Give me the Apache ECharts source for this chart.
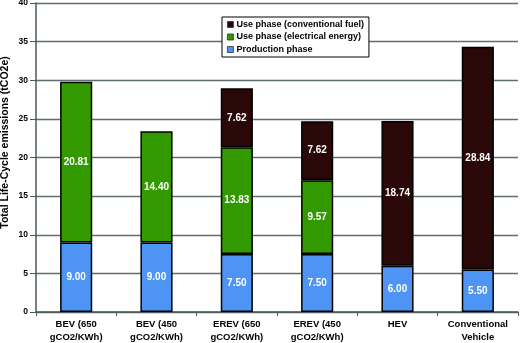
<!DOCTYPE html>
<html><head><meta charset="utf-8">
<script src="https://cdn.jsdelivr.net/npm/echarts@6/dist/echarts.min.js"></script>
<style>html,body{margin:0;padding:0;background:#fff}#c{width:520px;height:343px}</style>
</head><body><div id="c"></div>
<script>
const categories = ['BEV (650\ngCO2/KWh)', 'BEV (450\ngCO2/KWh)', 'EREV (650\ngCO2/KWh)', 'EREV (450\ngCO2/KWh)', 'HEV', 'Conventional\nVehicle'];
const production = [9.00, 9.00, 7.50, 7.50, 6.00, 5.50];
const electrical = [20.81, 14.40, 13.83, 9.57, null, null];
const conventional = [null, null, 7.62, 7.62, 18.74, 28.84];
const seriesNames = ['Production phase', 'Use phase (electrical energy)', 'Use phase (conventional fuel)'];
const FONT = 'Liberation Sans';
const chart = echarts.init(document.getElementById('c'));
function mk(name, data, color) {
  return {
    name, type: 'bar', stack: 'total', data, barWidth: '40%',
    itemStyle: { color, borderColor: '#000', borderWidth: 1.5 },
    label: {
      show: true, position: 'inside', color: '#fff', fontWeight: 'bold', fontSize: 10, fontFamily: FONT,
      formatter: p => p.value > 0 ? p.value.toFixed(2) : ''
    }
  };
}
chart.setOption({
  animation: false,
  textStyle: { fontFamily: FONT },
  grid: { left: 36, right: 2, top: 3, bottom: 31, containLabel: false, outerBoundsMode: 'none' },
  legend: {
    orient: 'vertical', left: 222, top: 17,
    data: [seriesNames[2], seriesNames[1], seriesNames[0]],
    itemWidth: 6, itemHeight: 6, itemGap: 3.5, padding: [3, 5, 3, 5],
    backgroundColor: '#fff', borderColor: '#000', borderWidth: 1,
    textStyle: { fontSize: 9, fontWeight: 'bold', color: '#000', fontFamily: FONT, padding: [0, 0, 0, -2] },
    icon: 'rect', selectedMode: false,
    itemStyle: { borderColor: '#333', borderWidth: 0.8 }
  },
  xAxis: {
    type: 'category', data: categories,
    axisLine: { lineStyle: { color: '#4a5858', width: 1.5 } },
    axisTick: { show: true, length: 4, lineStyle: { color: '#4a5858' } },
    axisLabel: { color: '#000', fontWeight: 'bold', fontSize: 9.5, lineHeight: 13, margin: 6, interval: 0, fontFamily: FONT }
  },
  yAxis: {
    type: 'value', min: 0, max: 40, interval: 5,
    name: 'Total Life-Cycle emissions (tCO2e)', nameLocation: 'middle', nameGap: 25, nameMoveOverlap: false,
    nameTextStyle: { color: '#000', fontWeight: 'bold', fontSize: 10.5, fontFamily: FONT, padding: [0, 0, 0, 30] },
    axisLine: { show: true, lineStyle: { color: '#4a5858', width: 1.5 } },
    axisTick: { show: true, length: 6, lineStyle: { color: '#4a5858' } },
    axisLabel: { color: '#000', fontWeight: 'bold', fontSize: 8.5, margin: 8, fontFamily: FONT },
    splitLine: { lineStyle: { color: '#5f6e6e', width: 1.3 } }
  },
  series: [
    mk(seriesNames[0], production, '#4d94f5'),
    mk(seriesNames[1], electrical, '#339900'),
    mk(seriesNames[2], conventional, '#2a0808')
  ]
});
</script></body></html>
